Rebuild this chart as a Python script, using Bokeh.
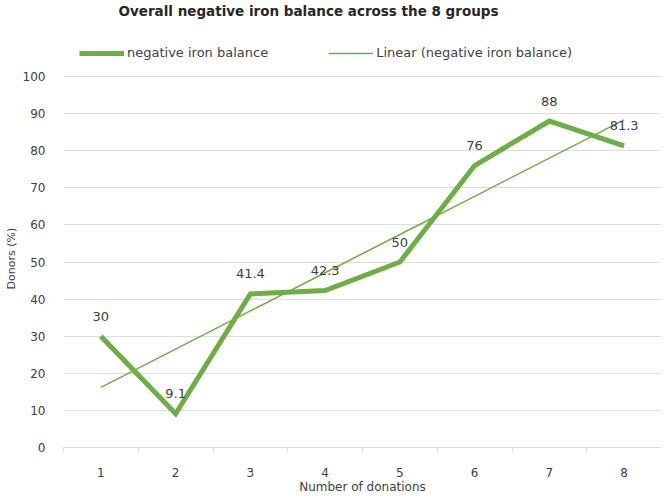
import numpy as np
from bokeh.plotting import figure
from bokeh.models import (ColumnDataSource, Range1d, FixedTicker, LabelSet,
                          Legend, LegendItem, Title, Label)
from bokeh.core.properties import value
from bokeh.embed import file_html
from bokeh.resources import INLINE

donations = [1, 2, 3, 4, 5, 6, 7, 8]
negative_iron = [30, 9.1, 41.4, 42.3, 50, 76, 88, 81.3]
label_text = ["30", "9.1", "41.4", "42.3", "50", "76", "88", "81.3"]
y_ticks = [0, 10, 20, 30, 40, 50, 60, 70, 80, 90, 100]
title_text = "Overall negative iron balance across the 8 groups"

GREEN = "#70ad47"
TEXT = "#404040"
GRID = "#d9dee8"
FONT = "DejaVu Sans"

# linear trendline (least squares of the series)
slope, intercept = np.polyfit(donations, negative_iron, 1)
trend = [slope * x + intercept for x in donations]

src = ColumnDataSource(dict(x=donations, y=negative_iron, lab=label_text, trend=trend))

# frame extends to the top to hold title and legend; grid/ticks stop at 100
p = figure(width=661, height=496, output_backend="svg", toolbar_location=None,
           title_location=None,
           x_range=Range1d(0.5, 8.5), y_range=Range1d(0, 120.5),
           min_border_left=60, min_border_right=0, min_border_top=0,
           min_border_bottom=44)

p.outline_line_color = None
p.background_fill_color = "white"
p.border_fill_color = "white"

# grid
p.xgrid.visible = False
p.ygrid.ticker = FixedTicker(ticks=y_ticks)
p.ygrid.grid_line_color = GRID
p.ygrid.grid_line_width = 1

# y axis
p.yaxis.ticker = FixedTicker(ticks=y_ticks)
p.yaxis.axis_line_color = None
p.yaxis.major_tick_line_color = None
p.yaxis.minor_tick_line_color = None
p.yaxis.major_tick_out = 0
p.yaxis.major_tick_in = 0
p.yaxis.minor_tick_out = 0
p.yaxis.major_label_standoff = 18
p.yaxis.major_label_text_font = FONT
p.yaxis.major_label_text_font_size = "12px"
p.yaxis.major_label_text_color = TEXT

ylab = Title(text="Donors (%)", align="left", offset=158, standoff=4,
             text_font=FONT, text_font_size="11px", text_font_style="normal",
             text_color=TEXT)
p.add_layout(ylab, "left")

# x axis
p.xaxis.ticker = FixedTicker(ticks=donations,
                             minor_ticks=[0.5, 1.5, 2.5, 3.5, 4.5, 5.5, 6.5, 7.5, 8.5])
p.xaxis.axis_line_color = GRID
p.xaxis.major_tick_line_color = None
p.xaxis.major_tick_out = 0
p.xaxis.major_tick_in = 0
p.xaxis.minor_tick_line_color = GRID
p.xaxis.minor_tick_out = 5
p.xaxis.minor_tick_in = 0
p.xaxis.major_label_standoff = 15
p.xaxis.major_label_text_font = FONT
p.xaxis.major_label_text_font_size = "12px"
p.xaxis.major_label_text_color = TEXT
p.xaxis.axis_label = "Number of donations"
p.xaxis.axis_label_text_font = FONT
p.xaxis.axis_label_text_font_size = "12px"
p.xaxis.axis_label_text_font_style = "normal"
p.xaxis.axis_label_text_color = TEXT
p.xaxis.axis_label_standoff = 0

# lines
r_main = p.line("x", "y", source=src, line_color=GREEN, line_width=5,
                line_join="miter")
r_trend = p.line("x", "trend", source=src, line_color=GREEN, line_width=1.5)

labels = LabelSet(x="x", y="y", text="lab", source=src, text_align="center",
                  text_baseline="middle", y_offset=20,
                  text_font=value(FONT), text_font_size="13px",
                  text_color=TEXT)
p.add_layout(labels)

# chart title (screen units, relative to the frame)
title = Label(x=55, y=437, x_units="screen", y_units="screen", text=title_text,
              text_align="left", text_baseline="middle",
              text_font=FONT, text_font_size="13.5px", text_font_style="bold",
              text_color="#262626")
p.add_layout(title)

legend = Legend(items=[LegendItem(label="negative iron balance", renderers=[r_main]),
                       LegendItem(label="Linear (negative iron balance)", renderers=[r_trend])],
                orientation="horizontal", location=(16, 387),
                glyph_width=45, glyph_height=14, label_standoff=3, spacing=60,
                padding=0, margin=0, border_line_color=None,
                background_fill_alpha=0,
                label_text_font=FONT, label_text_font_size="13px",
                label_text_color=TEXT)
p.add_layout(legend)

open("out.html", "w").write(file_html(p, INLINE))
